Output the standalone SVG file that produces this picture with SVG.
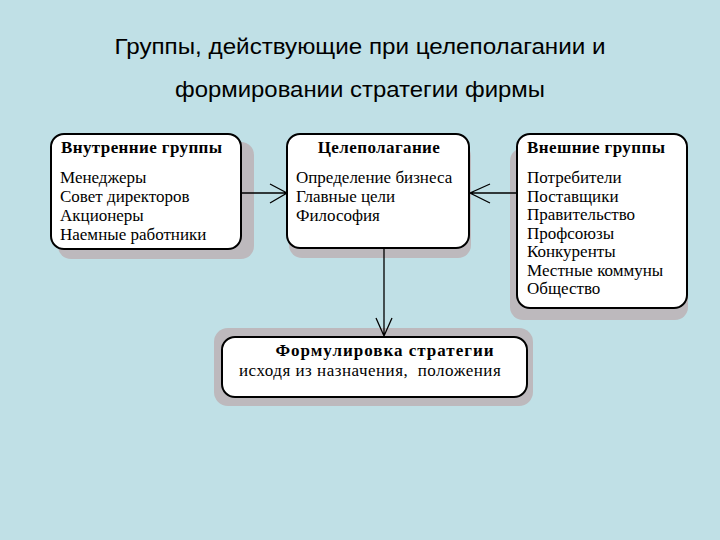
<svg xmlns="http://www.w3.org/2000/svg" width="720" height="540" viewBox="0 0 720 540">
<defs>
<style>
.title{font-family:"Liberation Sans",Arial,sans-serif;font-size:22.5px;fill:#000;text-anchor:middle}
.box{fill:#fff;stroke:#000;stroke-width:2}
.shadow{fill:#bdb9bd}
.h{font-family:"Liberation Serif","Times New Roman",serif;font-size:17px;font-weight:bold;fill:#000;letter-spacing:0.4px}
.t{font-family:"Liberation Serif","Times New Roman",serif;font-size:17px;fill:#000}
.ln{stroke:#000;stroke-width:1.3;fill:none}
</style>
</defs>
<rect width="720" height="540" fill="#c0e0e6"/>
<text class="title" x="360" y="54" textLength="491" lengthAdjust="spacingAndGlyphs">Группы, действующие при целеполагании и</text>
<text class="title" x="360" y="97" textLength="370" lengthAdjust="spacingAndGlyphs">формировании стратегии фирмы</text>

<g id="internal">
<rect class="shadow" x="58" y="142" width="196" height="117" rx="13"/>
<rect class="box" x="51" y="134" width="190" height="115" rx="13"/>
<text class="h" x="61" y="153">Внутренние группы</text>
<text class="t" x="60" y="183">Менеджеры</text>
<text class="t" x="60" y="202">Совет директоров</text>
<text class="t" x="60" y="221">Акционеры</text>
<text class="t" x="60" y="240">Наемные работники</text>
</g>

<g id="goal">
<rect class="shadow" x="289" y="143" width="182" height="115" rx="13"/>
<rect class="box" x="287" y="134" width="182" height="114" rx="13"/>
<text class="h" x="379" y="153" text-anchor="middle">Целеполагание</text>
<text class="t" x="296" y="183">Определение бизнеса</text>
<text class="t" x="296" y="202">Главные цели</text>
<text class="t" x="296" y="221">Философия</text>
</g>

<g id="external">
<rect class="shadow" x="510" y="148" width="178" height="172" rx="13"/>
<rect class="box" x="517" y="134" width="170" height="174" rx="13"/>
<text class="h" x="527" y="153">Внешние группы</text>
<text class="t" x="527" y="183">Потребители</text>
<text class="t" x="527" y="202">Поставщики</text>
<text class="t" x="527" y="220">Правительство</text>
<text class="t" x="527" y="239">Профсоюзы</text>
<text class="t" x="527" y="257">Конкуренты</text>
<text class="t" x="527" y="276">Местные коммуны</text>
<text class="t" x="527" y="294">Общество</text>
</g>

<g id="formulation">
<rect class="shadow" x="214" y="328" width="319" height="78" rx="14"/>
<rect class="box" x="222" y="337" width="305" height="60" rx="13"/>
<text class="h" x="385" y="356" text-anchor="middle" style="letter-spacing:1px">Формулировка стратегии</text>
<text class="t" x="239" y="376" style="white-space:pre;letter-spacing:0.5px" xml:space="preserve">исходя из назначения,  положения</text>
</g>

<g id="connectors">
<path class="ln" d="M241,193 H287 M270,184 L287,193 L270,203"/>
<path class="ln" d="M517,193 H470 M490,184 L470,193 L490,203"/>
<path class="ln" d="M384,248 V336 M376,318 L384,336 L392,318"/>
</g>
</svg>
